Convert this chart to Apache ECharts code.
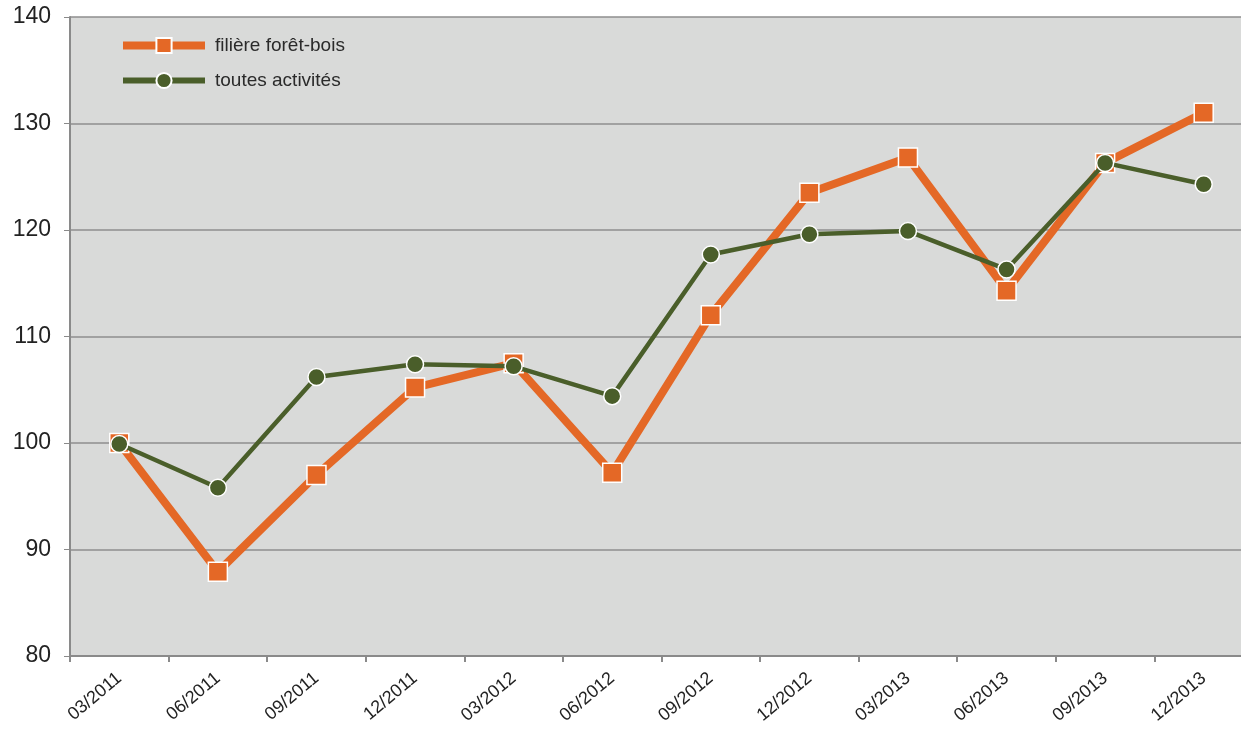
<!DOCTYPE html>
<html>
<head>
<meta charset="utf-8">
<script src="https://cdn.jsdelivr.net/npm/echarts@6/dist/echarts.min.js"></script>
<style>
html, body { margin: 0; padding: 0; background: #ffffff; overflow: hidden; }
#chart { width: 1253px; height: 729px; }
</style>
</head>
<body>
<div id="chart"></div>
<script>
// trimestres
var categories = ['03/2011', '06/2011', '09/2011', '12/2011', '03/2012', '06/2012',
    '09/2012', '12/2012', '03/2013', '06/2013', '09/2013', '12/2013'];
// indice base 100 au 03/2011
var foretBois = [100, 87.9, 97.0, 105.2, 107.5, 97.2, 112.0, 123.5, 126.8, 114.3, 126.3, 131.0];
var toutesActivites = [99.9, 95.8, 106.2, 107.4, 107.2, 104.4, 117.7, 119.6, 119.9, 116.3, 126.3, 124.3];

var chart = echarts.init(document.getElementById('chart'));

var option = {
    backgroundColor: '#ffffff',
    animation: false,
    textStyle: { fontFamily: 'Liberation Sans, Arial, sans-serif' },
    grid: {
        left: 70,
        right: 0,
        top: 17,
        bottom: 73,
        show: true,
        backgroundColor: '#d9dad9',
        borderWidth: 0
    },
    legend: {
        left: 119,
        top: 36,
        padding: 0,
        orient: 'vertical',
        itemGap: 16,
        itemWidth: 82,
        itemHeight: 19,
        textStyle: { color: '#2a2a2a', fontSize: 19, padding: [0, 0, 0, 5] },
        data: [
            { name: 'filière forêt-bois', lineStyle: { width: 8 } },
            { name: 'toutes activités', lineStyle: { width: 6 } }
        ]
    },
    xAxis: {
        type: 'category',
        data: categories,
        boundaryGap: true,
        axisLine: { lineStyle: { color: '#8a8a8a', width: 2 } },
        axisTick: { show: true, length: 6, lineStyle: { color: '#8a8a8a', width: 2 } },
        axisLabel: { color: '#222222', fontSize: 18, rotate: 40, margin: 20 },
        splitLine: { show: false }
    },
    yAxis: {
        type: 'value',
        min: 80,
        max: 140,
        interval: 10,
        axisLine: { show: true, lineStyle: { color: '#8a8a8a', width: 2 } },
        axisTick: { show: true, length: 6, lineStyle: { color: '#8a8a8a' } },
        axisLabel: { color: '#222222', fontSize: 23, margin: 19 },
        splitLine: { lineStyle: { color: '#8e8e8e', width: 1.5 } }
    },
    series: [{
        name: 'filière forêt-bois',
        type: 'line',
        data: foretBois,
        symbol: 'rect',
        symbolSize: 19,
        lineStyle: { width: 8, color: '#e46826' },
        itemStyle: { color: '#e46826', borderColor: '#ffffff', borderWidth: 1.5 },
        z: 2
    }, {
        name: 'toutes activités',
        type: 'line',
        data: toutesActivites,
        symbol: 'circle',
        symbolSize: 17,
        lineStyle: { width: 4.5, color: '#4a5e2a' },
        itemStyle: { color: '#4a5e2a', borderColor: '#ffffff', borderWidth: 1.5 },
        z: 3
    }]
};

chart.setOption(option);
</script>
</body>
</html>
